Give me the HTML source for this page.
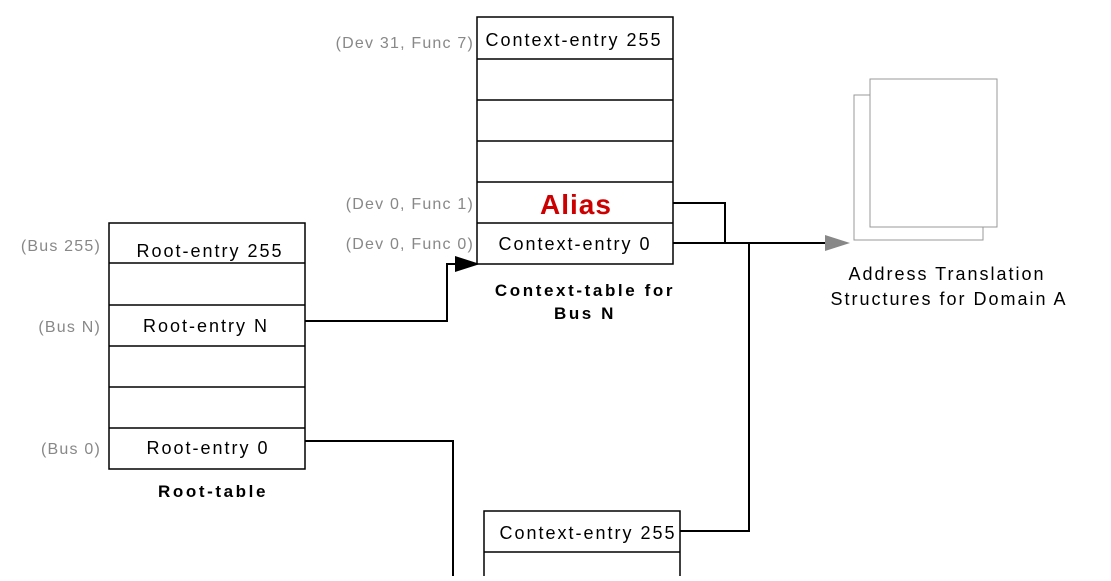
<!DOCTYPE html>
<html><head><style>body{margin:0;background:#fff}</style></head><body>
<svg width="1111" height="576" xmlns="http://www.w3.org/2000/svg" font-family="Liberation Sans, sans-serif">
<g fill="none" stroke="#000" stroke-width="1.5">
<rect x="109" y="223" width="196" height="246"/>
<line x1="109" y1="263" x2="305" y2="263"/><line x1="109" y1="305" x2="305" y2="305"/>
<line x1="109" y1="346" x2="305" y2="346"/><line x1="109" y1="387" x2="305" y2="387"/>
<line x1="109" y1="428" x2="305" y2="428"/>
<rect x="477" y="17" width="196" height="247"/>
<line x1="477" y1="59" x2="673" y2="59"/><line x1="477" y1="100" x2="673" y2="100"/>
<line x1="477" y1="141" x2="673" y2="141"/><line x1="477" y1="182" x2="673" y2="182"/>
<line x1="477" y1="223" x2="673" y2="223"/>
<path d="M484 580 V511 H680 V580"/><line x1="484" y1="552" x2="680" y2="552"/>
<path d="M305 321 H447 V264 H460" stroke-width="2"/>
<path d="M305 441 H453 V580" stroke-width="2"/>
<path d="M673 203 H725 V243" stroke-width="2"/>
<path d="M673 243 H828" stroke-width="2"/>
<path d="M749 243 V531 H680" stroke-width="2"/>
</g>
<polygon points="455,256 480,264 455,272" fill="#000"/>
<polygon points="825,235 850,243 825,251" fill="#888"/>
<rect x="854" y="95" width="129" height="145" fill="#fff" stroke="#999"/>
<rect x="870" y="79" width="127" height="148" fill="#fff" stroke="#999"/>
<g font-size="18" text-anchor="middle" fill="#000" letter-spacing="2">
<text x="210" y="257">Root-entry 255</text>
<text x="206" y="332">Root-entry N</text>
<text x="208" y="454">Root-entry 0</text>
<text x="574" y="46">Context-entry 255</text>
<text x="575" y="250">Context-entry 0</text>
<text x="588" y="539">Context-entry 255</text>
<text x="947" y="280">Address Translation</text>
<text x="949" y="305">Structures for Domain A</text>
<text x="576" y="214" font-size="28" font-weight="bold" fill="#c00" letter-spacing="1">Alias</text>
<g font-weight="bold" font-size="17" letter-spacing="2.6">
<text x="213" y="497">Root-table</text>
<text x="585" y="296">Context-table for</text>
<text x="585" y="319">Bus N</text>
</g>
</g>
<g font-size="16" text-anchor="end" fill="#888" letter-spacing="1.2">
<text x="101" y="251">(Bus 255)</text>
<text x="101" y="332">(Bus N)</text>
<text x="101" y="454">(Bus 0)</text>
<text x="474" y="48">(Dev 31, Func 7)</text>
<text x="474" y="209">(Dev 0, Func 1)</text>
<text x="474" y="249">(Dev 0, Func 0)</text>
</g>
</svg>
</body></html>
